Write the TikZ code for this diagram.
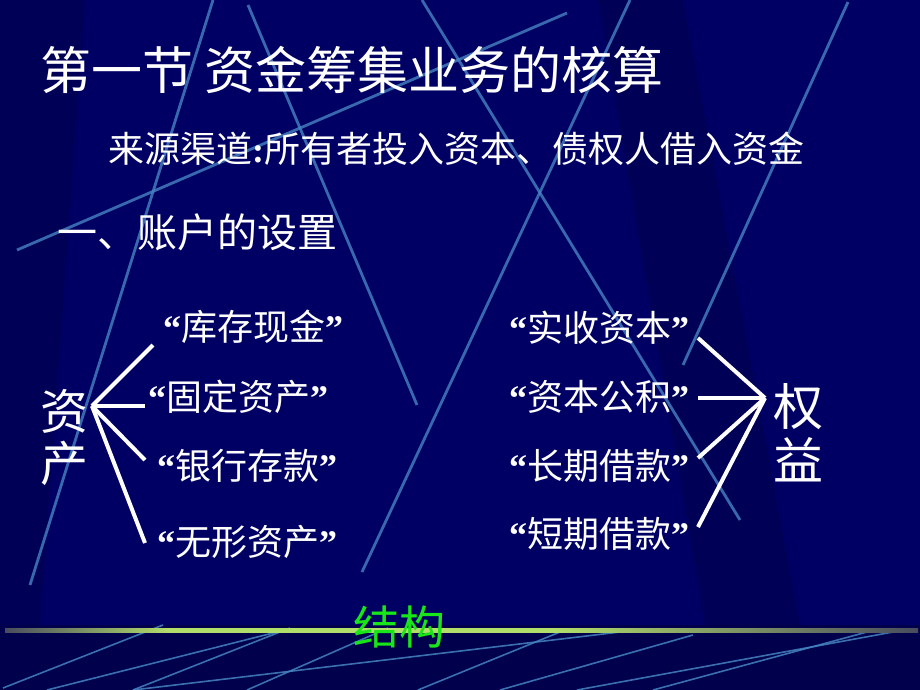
\documentclass[tikz,border=0pt]{standalone}
\usepackage{fontspec}
\setmainfont{Liberation Serif}
\newfontfamily\cjk{Noto Sans CJK SC}
\usepackage{tikz}
\usetikzlibrary{positioning}
\definecolor{slide}{HTML}{000064}
\definecolor{slidelow}{HTML}{00004C}
\definecolor{streak}{HTML}{4684C2}
\definecolor{rulegreen}{HTML}{B2DE6A}
\definecolor{ruledim}{HTML}{4A4C5E}
\definecolor{keyword}{HTML}{18E618}
\newcommand{\qt}[1]{{\rmfamily\bfseries “}#1{\rmfamily\bfseries ”}}
\pgfdeclarehorizontalshading{rulefade}{100bp}{color(0bp)=(ruledim); color(25bp)=(ruledim);
  color(34bp)=(rulegreen); color(55bp)=(rulegreen); color(75bp)=(ruledim); color(100bp)=(ruledim)}

\begin{document}
\begin{tikzpicture}[
      x=1pt, y=-1pt,
      title/.style={
        anchor=west,
        inner sep=0pt,
        text=white,
        font=\fontsize{51}{56}\selectfont\cjk,
      },
      subtitle/.style={
        title,
        font=\fontsize{36}{40}\selectfont\cjk,
      },
      heading/.style={
        title,
        font=\fontsize{40}{44}\selectfont\cjk,
      },
      item/.style={
        title,
        font=\fontsize{36}{40}\selectfont\cjk,
      },
      group/.style={
        inner sep=0pt,
        text=white,
        align=center,
      },
      fan/.style={
        draw=white,
        line width=4pt,
      },
      streakline/.style={
        draw=streak,
        line width=2.8pt,
        opacity=0.8,
      },
      lowstreak/.style={
        draw=streak,
        line width=1.6pt,
        opacity=0.85,
      }
    ]
      % declare background layer
      \pgfdeclarelayer{background}
      \pgfsetlayers{background,main}
      \useasboundingbox (0,0) rectangle (920,690);

      % headings
      \node[title] (title) at (40,70) {第一节 资金筹集业务的核算};
      \node[subtitle] (source) at (108,149) {来源渠道{\rmfamily\bfseries :}所有者投入资本、债权人借入资金};
      \node[heading] (setup) at (57,232) {一、账户的设置};

      % asset side
      \node[group, font=\fontsize{48}{52}\selectfont\cjk] (zichan) at (64,438) {资\\产};
      \node[item] (kucun) at (163,327) {\qt{库存现金}};
      \node[item] (guding) at (148,397) {\qt{固定资产}};
      \node[item] (yinhang) at (157,466) {\qt{银行存款}};
      \node[item] (wuxing) at (157,542) {\qt{无形资产}};

      % equity side
      \node[group, font=\fontsize{50}{54}\selectfont\cjk] (quanyi) at (798,433) {权\\益};
      \node[item] (shishou) at (509,328) {\qt{实收资本}};
      \node[item] (gongji) at (509,397) {\qt{资本公积}};
      \node[item] (changqi) at (509,466) {\qt{长期借款}};
      \node[item] (duanqi) at (509,534) {\qt{短期借款}};

      \node[inner sep=0pt, text=keyword, font=\fontsize{46}{50}\selectfont\cjk] (jiegou) at (399,627) {结构};

      % fan ends
      \coordinate (zc) at (92,406);
      \coordinate (a1) at (153,345);
      \coordinate (a2) at (145,406);
      \coordinate (a3) at (145,460);
      \coordinate (a4) at (145,543);
      \coordinate (qc) at (765,398);
      \coordinate (e1) at (698,338);
      \coordinate (e2) at (698,398);
      \coordinate (e3) at (698,458);
      \coordinate (e4) at (698,527);

      \foreach \p in {a1,a2,a3,a4}
        \draw[fan] (zc) -- (\p);
      \foreach \p in {e1,e2,e3,e4}
        \draw[fan] (\p) -- (qc);

      % slide background
      \begin{pgfonlayer}{background}
        \fill[slide] (0,0) rectangle (920,625);
        \fill[slidelow] (0,625) rectangle (920,690);
        \fill[black, opacity=0.12] (0,0) -- (85,0) -- (40,625) -- (0,625) -- cycle;
        \fill[black, opacity=0.12] (598,0) -- (683,0) -- (800,625) -- (705,625) -- cycle;
        \foreach \xa/\ya/\xb/\yb in {213/0/30/585, 248/5/417/405, 17/250/567/13,
            422/0/740/520, 630/0/362/572, 848/2/683/365}
          \draw[streakline] (\xa,\ya) -- (\xb,\yb);
        \foreach \xa/\ya/\xb/\yb in {163/625/3/688, 290/628/133/690, 277/632/47/690,
            388/628/247/690, 620/632/133/690, 560/632/418/690, 693/635/500/690,
            893/632/577/690, 867/632/653/690}
          \draw[lowstreak] (\xa,\ya) -- (\xb,\yb);
        % rule line
        \shade[shading=rulefade] (5,628.5) rectangle (918,632);
      \end{pgfonlayer}
    \end{tikzpicture}
\end{document}
